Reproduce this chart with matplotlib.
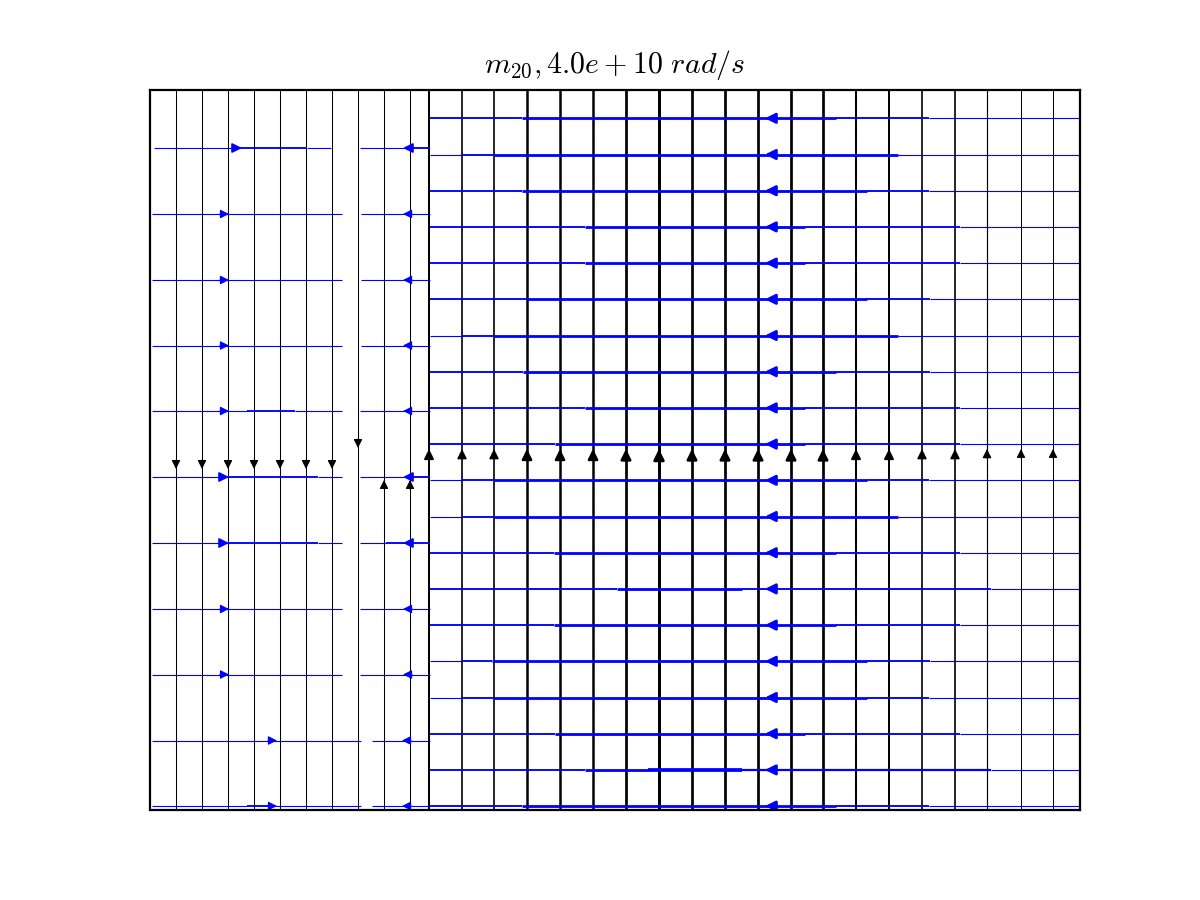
import matplotlib
matplotlib.use("Agg")
import matplotlib.pyplot as plt
from matplotlib.patches import FancyArrowPatch

plt.rcParams['mathtext.fontset'] = 'cm'

title = r'$m_{20}, 4.0e+10\ rad/s$'
x_range = (0.0, 9.3)
y_range = (0.0, 7.2)

# ---------------- vertical (black) streamlines ----------------
vx_left = [0.26, 0.52, 0.78, 1.04, 1.30, 1.56, 1.82, 2.08, 2.34, 2.60]
vdir_left = [-1, -1, -1, -1, -1, -1, -1, -1, 1, 1]
varrow_left = [3.41, 3.41, 3.41, 3.41, 3.41, 3.41, 3.41, 3.62, 3.30, 3.30]
vspeed_left = [0.75, 0.75, 0.75, 0.75, 0.75, 0.75, 0.75, 0.75, 0.75, 0.75]

vx_right = [2.79, 3.12, 3.44, 3.77, 4.10, 4.43, 4.76, 5.09, 5.42, 5.75,
            6.08, 6.41, 6.73, 7.06, 7.39, 7.72, 8.05, 8.37, 8.71, 9.03]
vdir_right = [1] * 20
varrow_right = [3.61] * 20
vspeed_right = [1.45, 1.2, 1.2, 1.8, 1.8, 1.8, 1.95, 2.15, 1.95, 1.95,
                1.95, 1.95, 1.95, 1.45, 1.45, 1.2, 1.2, 0.85, 0.72, 0.72]

# ---------------- horizontal (blue) streamlines ----------------
hy_left = [6.62, 5.96, 5.30, 4.645, 3.99, 3.33, 2.67, 2.01, 1.355, 0.695, 0.04]
hleft_piece1_bp = [
    [0.04, 0.90, 1.57, 1.81],
    [0.02, 1.92],
    [0.02, 1.92],
    [0.02, 1.92],
    [0.02, 0.97, 1.45, 1.92],
    [0.02, 0.78, 1.68, 1.92],
    [0.02, 0.78, 1.68, 1.92],
    [0.02, 1.92],
    [0.02, 1.92],
    [0.02, 2.11],
    [0.02, 0.97, 1.20, 2.11],
]
hleft_piece1_lv = [
    [0, 1, 0], [0], [0], [0], [0, 1, 0], [0, 1, 0], [0, 1, 0], [0], [0], [0], [0, 1, 0],
]
hleft_arrow1 = [0.92, 0.79, 0.79, 0.79, 0.79, 0.79, 0.79, 0.79, 0.79, 1.27, 1.27]
hleft_arrow1_lv = [1, 0, 0, 0, 0, 1, 1, 0, 0, 0, 0]
hleft_piece2_bp = [
    [2.10, 2.58, 2.80],
    [2.11, 2.80],
    [2.11, 2.80],
    [2.11, 2.80],
    [2.10, 2.80],
    [2.10, 2.58, 2.80],
    [2.10, 2.36, 2.80],
    [2.10, 2.80],
    [2.10, 2.80],
    [2.22, 2.80],
    [2.22, 2.80],
]
hleft_piece2_lv = [
    [0, 1], [0], [0], [0], [0], [0, 1], [0, 1], [0], [0], [0], [0],
]
hleft_arrow2 = [2.53, 2.53, 2.53, 2.53, 2.53, 2.53, 2.53, 2.53, 2.53, 2.52, 2.52]
hleft_arrow2_lv = [1, 0, 0, 0, 0, 1, 1, 0, 0, 0, 0]

hy_right = [6.917, 6.555, 6.193, 5.831, 5.469, 5.107, 4.745, 4.383, 4.021, 3.659,
            3.297, 2.935, 2.573, 2.211, 1.849, 1.487, 1.125, 0.763, 0.401, 0.039]
hright_bp = [
    [2.80, 3.72, 6.86, 7.79, 9.30],
    [2.80, 3.11, 3.44, 7.48, 9.30],
    [2.80, 3.72, 7.17, 7.79, 9.30],
    [2.80, 4.35, 6.55, 8.10, 9.30],
    [2.80, 4.35, 6.55, 8.10, 9.30],
    [2.80, 3.77, 7.17, 7.80, 9.30],
    [2.80, 3.11, 3.44, 7.48, 9.30],
    [2.80, 3.73, 6.86, 7.80, 9.30],
    [2.80, 4.35, 6.55, 8.10, 9.30],
    [2.80, 4.05, 6.55, 8.10, 9.30],
    [2.80, 3.11, 3.44, 7.17, 7.79, 9.30],
    [2.80, 3.11, 3.44, 7.48, 9.30],
    [2.80, 4.04, 6.86, 8.10, 9.30],
    [2.80, 4.67, 5.92, 8.41, 9.30],
    [2.80, 4.04, 6.86, 8.10, 9.30],
    [2.80, 3.11, 3.42, 7.17, 7.80, 9.30],
    [2.80, 3.11, 3.44, 7.17, 7.79, 9.30],
    [2.80, 4.05, 6.55, 8.10, 9.30],
    [2.80, 4.35, 4.98, 5.92, 8.41, 9.30],
    [2.80, 3.72, 6.86, 7.79, 9.30],
]
hright_lv = [
    [1, 2, 1, 0],
    [0, 1, 2, 0],
    [1, 2, 1, 0],
    [1, 2, 1, 0],
    [1, 2, 1, 0],
    [1, 2, 1, 0],
    [0, 1, 2, 0],
    [1, 2, 1, 0],
    [1, 2, 1, 0],
    [1, 2, 1, 0],
    [0, 1, 2, 1, 0],
    [0, 1, 2, 0],
    [1, 2, 1, 0],
    [1, 2, 1, 0],
    [1, 2, 1, 0],
    [0, 1, 2, 1, 0],
    [0, 1, 2, 1, 0],
    [1, 2, 1, 0],
    [1, 2, 3, 1.5, 0],
    [1, 2, 1, 0],
]
hright_arrow = [6.15] * 20

LEVEL_LW = {0: 0.8, 1: 1.35, 1.5: 1.6, 2: 2.0, 3: 2.7}
BLUE = '#0000ff'
BLACK = '#000000'

fig = plt.figure(figsize=(12, 9), dpi=100)
ax = fig.add_axes([0.125, 0.1, 0.775, 0.8])
ax.set_xlim(*x_range)
ax.set_ylim(*y_range)
ax.set_xticks([])
ax.set_yticks([])
for s in ax.spines.values():
    s.set_linewidth(1.6)


def arrow(x_tip, y_tip, dx, dy, lw, color, scale, z):
    a = FancyArrowPatch((x_tip - dx, y_tip - dy), (x_tip, y_tip),
                        arrowstyle='-|>', mutation_scale=scale, lw=lw,
                        color=color, shrinkA=0, shrinkB=0, zorder=z)
    ax.add_patch(a)


for xs, ds, ys, sp in ((vx_left, vdir_left, varrow_left, vspeed_left),
                       (vx_right, vdir_right, varrow_right, vspeed_right)):
    for x, d, ya, lw in zip(xs, ds, ys, sp):
        ax.plot([x, x], list(y_range), color=BLACK, lw=lw,
                solid_capstyle='butt', zorder=1)
        arrow(x, ya, 0, 0.09 * d, lw, BLACK, 12 + 1.5 * lw, 1.5)


def draw_piece(y, bp, lv):
    for i, l in enumerate(lv):
        ax.plot([bp[i], bp[i + 1]], [y, y], color=BLUE, lw=LEVEL_LW[l],
                solid_capstyle='butt', zorder=2)


for i, y in enumerate(hy_left):
    draw_piece(y, hleft_piece1_bp[i], hleft_piece1_lv[i])
    draw_piece(y, hleft_piece2_bp[i], hleft_piece2_lv[i])
    lw1 = LEVEL_LW[hleft_arrow1_lv[i]]
    arrow(hleft_arrow1[i], y, 0.09, 0, lw1, BLUE, 12 + 1.5 * lw1, 2.5)
    lw2 = LEVEL_LW[hleft_arrow2_lv[i]]
    arrow(hleft_arrow2[i], y, -0.09, 0, lw2, BLUE, 12 + 1.5 * lw2, 2.5)

for i, y in enumerate(hy_right):
    draw_piece(y, hright_bp[i], hright_lv[i])
    lw = LEVEL_LW[2]
    arrow(hright_arrow[i], y, -0.09, 0, lw, BLUE, 12 + 1.5 * lw, 2.5)

ax.set_title(title, fontsize=21.5, pad=12)

fig.savefig('out.png', dpi=100)
